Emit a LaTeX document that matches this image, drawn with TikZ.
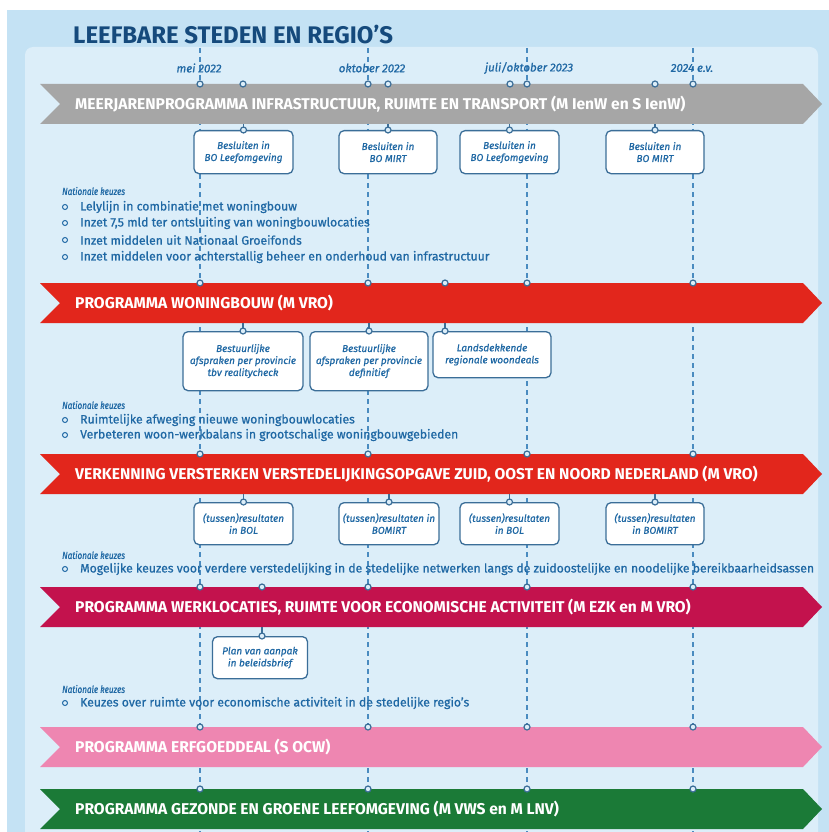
\documentclass[tikz,border=0pt]{standalone}
\usepackage{fontspec}
\setmainfont{Fira Sans}
\definecolor{outerbg}{HTML}{C4E2F4}
\definecolor{innerbg}{HTML}{DCEEF9}
\definecolor{titleblue}{HTML}{154A7C}
\definecolor{textblue}{HTML}{1F68A4}
\definecolor{dashblue}{HTML}{4A8BC0}
\definecolor{boxline}{HTML}{3B6E98}
\definecolor{bgray}{HTML}{A6A6A6}
\definecolor{bred}{HTML}{E2261C}
\definecolor{bcrimson}{HTML}{C3124D}
\definecolor{bpink}{HTML}{EE86B1}
\definecolor{bgreen}{HTML}{1B7A37}
\begin{document}
\begin{tikzpicture}[x=1pt,y=-1pt,
  dline/.style={dashblue,line width=1.2pt,dash pattern=on 5pt off 4pt},
  dot/.style={circle,draw=boxline,fill=innerbg,line width=1.2pt,inner sep=0pt,minimum size=6pt},
  stem/.style={boxline,line width=1.2pt},
  bandtext/.style={anchor=west,text=white,font=\bfseries\fontsize{15.6}{17}\selectfont,inner sep=0pt},
  datelabel/.style={text=textblue,font=\itshape\fontsize{11.5}{13}\selectfont\addfontfeature{FakeBold=0.8},inner sep=0pt},
  infobox/.style={draw=boxline,fill=white,line width=1.3pt,rounded corners=5pt,anchor=north,
    align=center,text=textblue,font=\itshape\fontsize{10}{12}\selectfont\addfontfeature{FakeBold=0.8},inner sep=2pt},
  nk/.style={anchor=west,text=textblue,font=\itshape\fontsize{10.2}{12}\selectfont\addfontfeature{FakeBold=0.8},inner sep=0pt,xscale=0.8,transform shape},
  item/.style={anchor=west,text=textblue,font=\fontsize{12.2}{14}\selectfont\addfontfeature{FakeBold=0.8},inner sep=0pt},
  bullet/.style={circle,draw=textblue,line width=1pt,inner sep=0pt,minimum size=5pt}
]
\useasboundingbox (0,0) rectangle (829,832);
\fill[white] (0,0) rectangle (829,832);
\fill[outerbg] (7,10) rectangle (829,832);
\fill[innerbg] (25,832) [rounded corners=8pt] -- (25,47) -- (818,47) [sharp corners] -- (818,832) -- cycle;

% title
\node[anchor=west,text=titleblue,font=\bfseries\fontsize{24}{27}\selectfont,inner sep=0pt] (title) at (73,35) {LEEFBARE STEDEN EN REGIO’S};

% dashed timeline lines
\foreach \i/\x in {1/200,2/368,3/527,4/693}{
  \coordinate (dt\i) at (\x,48);
  \coordinate (db\i) at (\x,832);
  \draw[dline] (dt\i) -- (db\i);
}

% date labels
\node[datelabel] (d1) at (199,68) {mei 2022};
\node[datelabel] (d2) at (372,68) {oktober 2022};
\node[datelabel] (d3) at (529,68) {juli/oktober 2023};
\node[datelabel] (d4) at (692,68) {2024 e.v.};

% bands
\newcommand\drawband[4]{%
  \fill[#3] (40,#2) -- (803,#2) -- (822,#2+20) -- (803,#2+40) -- (40,#2+40) -- (60,#2+20) -- cycle;
  \node[bandtext] (#1) at (75,#2+20) {#4};}
\drawband{band1}{84}{bgray}{MEERJARENPROGRAMMA INFRASTRUCTUUR, RUIMTE EN TRANSPORT (M IenW en S IenW)}
\drawband{band2}{283}{bred}{PROGRAMMA WONINGBOUW (M VRO)}
\drawband{band3}{454}{bred}{VERKENNING VERSTERKEN VERSTEDELIJKINGSOPGAVE ZUID, OOST EN NOORD NEDERLAND (M VRO)}
\drawband{band4}{587}{bcrimson}{PROGRAMMA WERKLOCATIES, RUIMTE VOOR ECONOMISCHE ACTIVITEIT (M EZK en M VRO)}
\drawband{band5}{727}{bpink}{PROGRAMMA ERFGOEDDEAL (S OCW)}
\drawband{band6}{789}{bgreen}{PROGRAMMA GEZONDE EN GROENE LEEFOMGEVING (M VWS en M LNV)}

% dots on band tops
\foreach \x [count=\k] in {200,243,368,388,510,527,655,693}{\node[dot] (ta\k) at (\x,84) {};}
\foreach \x [count=\k] in {200,368,445,527,693}{\node[dot] (tb\k) at (\x,283) {};}
\foreach \x [count=\k] in {200,368,527,693}{\node[dot] (tc\k) at (\x,454) {};}
\foreach \x [count=\k] in {200,262,368,527,693}{\node[dot] (td\k) at (\x,587) {};}
\foreach \x [count=\k] in {200,368,527,693}{\node[dot] (te\k) at (\x,727) {};}
\foreach \x [count=\k] in {200,368,527,693}{\node[dot] (tf\k) at (\x,789) {};}

% row 1 boxes
\node[infobox,minimum width=99pt,minimum height=43pt] (a1) at (243.5,130) {Besluiten in\\BO Leefomgeving};
\node[infobox,minimum width=98pt,minimum height=43pt] (a2) at (388,130) {Besluiten in\\BO MIRT};
\node[infobox,minimum width=99pt,minimum height=43pt] (a3) at (509.5,130) {Besluiten in\\BO Leefomgeving};
\node[infobox,minimum width=98pt,minimum height=43pt] (a4) at (655,130) {Besluiten in\\BO MIRT};
\foreach \k/\x in {1/243.5,2/388,3/509.5,4/655}{
  \coordinate (sa\k) at (\x,124);
  \draw[stem] (sa\k) -- (a\k.north);
  \node[dot] at (a\k.north) {};
}

% row 2 boxes
\node[infobox,minimum width=120pt,minimum height=59pt] (b1) at (243,331) {Bestuurlijke\\afspraken per provincie\\tbv realitycheck};
\node[infobox,minimum width=118pt,minimum height=59pt] (b2) at (369,331) {Bestuurlijke\\afspraken per provincie\\definitief};
\node[infobox,minimum width=118pt,minimum height=46pt] (b3) at (492,331) {Landsdekkende\\regionale woondeals};
\coordinate (sb1) at (243,323); \draw[stem] (sb1) -- (b1.north); \node[dot] (cb1) at (b1.north) {};
\coordinate (sb2) at (369,323); \draw[stem] (sb2) -- (b2.north); \node[dot] (cb2) at (b2.north) {};
\coordinate (sb3) at (445,323); \coordinate (cb3pos) at (445,331);
\draw[stem] (sb3) -- (cb3pos); \node[dot] (cb3) at (cb3pos) {};

% row 3 boxes
\node[infobox,minimum width=99pt,minimum height=42pt] (c1) at (243.5,502) {(tussen)resultaten\\in BOL};
\node[infobox,minimum width=100pt,minimum height=42pt] (c2) at (389,502) {(tussen)resultaten in\\BOMIRT};
\node[infobox,minimum width=99pt,minimum height=42pt] (c3) at (509.5,502) {(tussen)resultaten\\in BOL};
\node[infobox,minimum width=98pt,minimum height=42pt] (c4) at (655,502) {(tussen)resultaten\\in BOMIRT};
\foreach \k/\x in {1/243.5,2/389,3/509.5,4/655}{
  \coordinate (sc\k) at (\x,494);
  \draw[stem] (sc\k) -- (c\k.north);
  \node[dot] at (c\k.north) {};
}

% row 4 box
\node[infobox,minimum width=95pt,minimum height=42pt] (e1) at (260,636) {Plan van aanpak\\in beleidsbrief};
\coordinate (se1) at (262,627); \coordinate (ce1pos) at (262,636);
\draw[stem] (se1) -- (ce1pos); \node[dot] (ce1) at (ce1pos) {};

% Nationale keuzes lists
\newcommand\nkitem[3]{\node[bullet] (#1b) at (65,#2) {}; \node[item] (#1) at (80,#2) {#3};}
\node[nk] (nk1) at (62,191) {Nationale keuzes};
\nkitem{i11}{207}{Lelylijn in combinatie met woningbouw}
\nkitem{i12}{223}{Inzet 7,5 mld ter ontsluiting van woningbouwlocaties}
\nkitem{i13}{240}{Inzet middelen uit Nationaal Groeifonds}
\nkitem{i14}{257}{Inzet middelen voor achterstallig beheer en onderhoud van infrastructuur}

\node[nk] (nk2) at (62,405) {Nationale keuzes};
\nkitem{i21}{420}{Ruimtelijke afweging nieuwe woningbouwlocaties}
\nkitem{i22}{435}{Verbeteren woon-werkbalans in grootschalige woningbouwgebieden}

\node[nk] (nk3) at (62,555) {Nationale keuzes};
\nkitem{i31}{569}{Mogelijke keuzes voor verdere verstedelijking in de stedelijke netwerken langs de zuidoostelijke en noodelijke bereikbaarheidsassen}

\node[nk] (nk4) at (62,689) {Nationale keuzes};
\nkitem{i41}{703}{Keuzes over ruimte voor economische activiteit in de stedelijke regio’s}
\end{tikzpicture}
\end{document}
